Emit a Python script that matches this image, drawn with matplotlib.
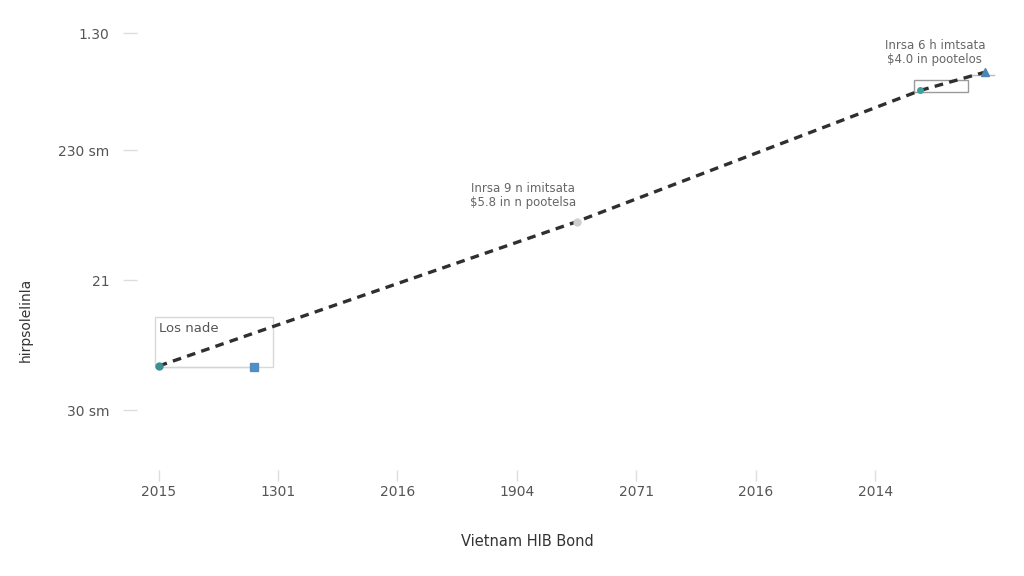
import matplotlib
matplotlib.use("Agg")
import matplotlib.pyplot as plt
from matplotlib.patches import Rectangle

# tick labels as they appear on the chart
x_labels = ["2015", "1301", "2016", "1904", "2071", "2016", "2014"]
y_ticks = [0, 1, 2, 2.9]
y_labels = ["30 sm", "21", "230 sm", "1.30"]

# the dashed series (x in tick index units)
line_x = [0, 3.5, 6.38, 6.92]
line_y = [0.34, 1.45, 2.46, 2.6]

# annotation texts
note_mid = "Inrsa 9 n imitsata\n\\$5.8 in n pootelsa"
note_top = "Inrsa 6 h imtsata\n\\$4.0 in pootelos"
legend_text = "Los nade"


def main():
    fig = plt.figure(figsize=(10.24, 5.76), dpi=100)
    ax = fig.add_axes([0.134, 0.184, 0.843, 0.79])

    # main dashed line
    ax.plot(line_x, line_y, color="#2f2f2f", lw=2.4, ls=(0, (2.6, 1.9)), zorder=3)
    # markers
    ax.plot(line_x[0], line_y[0], "o", color="#3f8f8f", ms=5, zorder=4)
    ax.plot(line_x[1], line_y[1], "o", color="#cfcfcf", ms=5, zorder=4)
    ax.plot(line_x[2], line_y[2], "o", color="#3f9f9f", ms=4, zorder=4)
    ax.plot(line_x[3], line_y[3], "^", color="#4a86b5", ms=6, zorder=4)

    # small legend-like box near the start
    ax.add_patch(Rectangle((-0.03, 0.33), 0.99, 0.39, fill=False,
                           ec="#d8d8d8", lw=1, zorder=2))
    ax.plot([0, 0.8], [0.33, 0.33], color="#d5d5d5", lw=1, zorder=2)
    ax.plot(0.8, 0.33, "s", color="#4f8fc4", ms=6, zorder=4)
    ax.text(0.0, 0.63, legend_text, fontsize=9.5, color="#555555", va="center")

    # small box near the end
    ax.add_patch(Rectangle((6.33, 2.45), 0.45, 0.09, fill=False,
                           ec="#9a9a9a", lw=1, zorder=2))
    ax.plot([6.8, 7.0], [2.58, 2.58], color="#bbbbbb", lw=1, zorder=2)

    ax.text(3.05, 1.65, note_mid, fontsize=8.5, color="#666666",
            ha="center", va="center", linespacing=1.1)
    ax.text(6.5, 2.75, note_top, fontsize=8.5, color="#666666",
            ha="center", va="center", linespacing=1.1)

    ax.set_xlim(-0.18, 7.05)
    ax.set_ylim(-0.46, 3.04)
    ax.set_xticks(range(len(x_labels)))
    ax.set_xticklabels(x_labels)
    ax.set_yticks(y_ticks)
    ax.set_yticklabels(y_labels)
    ax.tick_params(axis="both", colors="#dddddd", labelcolor="#555555",
                   labelsize=10, width=1)
    ax.tick_params(axis="y", length=10, pad=10)
    ax.tick_params(axis="x", length=8, pad=3)
    for s in ax.spines.values():
        s.set_visible(False)

    fig.text(0.515, 0.06, "Vietnam HIB Bond", fontsize=10.5, color="#333333",
             ha="center", va="center")
    fig.text(0.025, 0.445, "hirpsolelinla", fontsize=10, color="#333333",
             rotation=90, ha="center", va="center")

    fig.savefig("out.png", dpi=100, facecolor="white")


main()
